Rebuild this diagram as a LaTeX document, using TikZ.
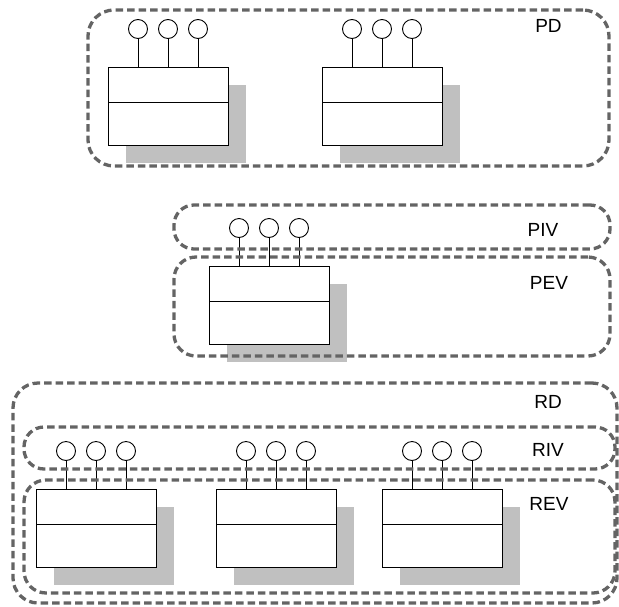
\documentclass[tikz,border=0pt]{standalone}
\usepackage{fontspec}
\setmainfont{Liberation Sans}
\definecolor{dashgray}{RGB}{100,100,100}
\definecolor{shadegray}{RGB}{192,192,192}
\tikzset{
  cont/.style={draw=dashgray, line width=3.3pt, dash pattern=on 7.5pt off 4pt, rounded corners=20pt, inner sep=0pt},
  cls/.style={draw=black, fill=white, line width=0.9pt, minimum width=120pt, minimum height=78pt, inner sep=0pt, outer sep=0pt},
  shade/.style={fill=shadegray, minimum width=120pt, minimum height=78pt, inner sep=0pt},
  port/.style={circle, draw=black, fill=white, line width=0.9pt, minimum size=19pt, inner sep=0pt},
  wire/.style={draw=black, line width=0.9pt},
  lbl/.style={font=\fontsize{19}{19}\selectfont, inner sep=0pt}
}
\newcommand\ubox[3]{%
  \node[shade, anchor=north west] (#1s) at (#2+18,#3+18) {};
  \node[cls, anchor=north west] (#1) at (#2,#3) {};
  \draw[wire] ([yshift=-35pt]#1.north west) -- ([yshift=-35pt]#1.north east);
  \foreach \i/\dx in {1/-30,2/0,3/30} {
    \node[port] (#1p\i) at ([xshift=\dx pt, yshift=38pt]#1.north) {};
    \draw[wire] (#1p\i) -- (#1p\i |- #1.north);
  }
}
\begin{document}
\begin{tikzpicture}[x=1pt,y=-1pt]
\useasboundingbox (0,0) rectangle (619,606);
% class boxes
\ubox{pda}{108}{67}
\ubox{pdb}{322}{67}
\ubox{pev}{209}{266}
\ubox{ra}{36}{489}
\ubox{rb}{216}{489}
\ubox{rc}{382}{489}
% containers
\node[cont, rounded corners=26pt, minimum width=521pt, minimum height=156pt] (PD) at (348.5,88) {};
\node[cont, minimum width=436pt, minimum height=44pt] (PIV) at (392,227) {};
\node[cont, rounded corners=22pt, minimum width=436pt, minimum height=99pt] (PEV) at (392,306.5) {};
\node[cont, rounded corners=25pt, minimum width=604pt, minimum height=220pt] (RD) at (315,493) {};
\node[cont, minimum width=591pt, minimum height=42pt] (RIV) at (319.5,448) {};
\node[cont, rounded corners=22pt, minimum width=591pt, minimum height=113pt] (REV) at (319.5,536.5) {};
% labels
\node[lbl] (lPD) at (548.5,26) {PD};
\node[lbl] (lPIV) at (543,230) {PIV};
\node[lbl] (lPEV) at (549,283) {PEV};
\node[lbl] (lRD) at (548,401.5) {RD};
\node[lbl] (lRIV) at (548,450) {RIV};
\node[lbl] (lREV) at (549,504) {REV};
\end{tikzpicture}
\end{document}
